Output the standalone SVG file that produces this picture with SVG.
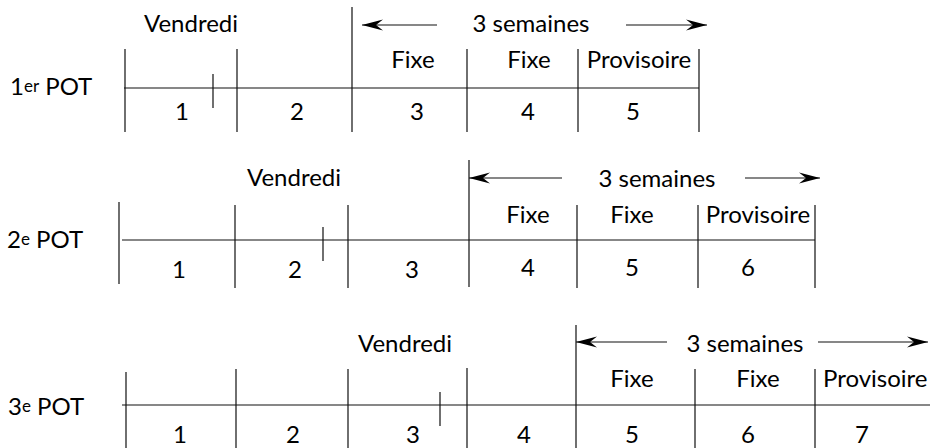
<svg xmlns="http://www.w3.org/2000/svg" width="930" height="448" viewBox="0 0 930 448">
  <style>
    text { font-family: Lato, "Liberation Sans", sans-serif; font-size: 24px; fill: #000; }
    .c { text-anchor: middle; }
    .sup { font-size: 17px; }
    .ln { stroke: #111; stroke-width: 1.2; fill: none; }
    .arr { stroke: #111; stroke-width: 1.2; fill: none; marker-end: url(#head); }
  </style>
  <defs>
    <marker id="head" markerUnits="userSpaceOnUse" markerWidth="24" markerHeight="14" viewBox="-22 -7 24 14" refX="0" refY="0" orient="auto">
      <path d="M0,0 L-21,-5.5 L-14,0 L-21,5.5 Z" fill="#000"/>
    </marker>
  </defs>

  <rect width="930" height="448" fill="#fff"/>

  <!-- first timeline -->
  <g id="pot1">
    <text x="10" y="95">1<tspan class="sup" dy="-3">er</tspan><tspan dy="3"> POT</tspan></text>
    <text class="c" x="191" y="32">Vendredi</text>
    <text class="c" x="531" y="32">3 semaines</text>
    <path class="ln" d="M124,88 H699 M125,49 V132 M237,49 V132 M352,7 V132 M467,49 V132 M578,49 V132 M699,49 V132 M213,74 V108"/>
    <text class="c" x="413" y="68">Fixe</text>
    <text class="c" x="529" y="68">Fixe</text>
    <text class="c" x="639" y="68">Provisoire</text>
    <text class="c" x="182" y="120">1</text>
    <text class="c" x="297" y="120">2</text>
    <text class="c" x="417" y="120">3</text>
    <text class="c" x="528" y="120">4</text>
    <text class="c" x="633" y="120">5</text>
  </g>

  <!-- second timeline -->
  <g id="pot2">
    <text x="7" y="248">2<tspan class="sup" dy="-3">e</tspan><tspan dy="3"> POT</tspan></text>
    <text class="c" x="294" y="186">Vendredi</text>
    <text class="c" x="657" y="187">3 semaines</text>
    <path class="ln" d="M122,240 H815 M119,202 V284 M235,205 V288 M348,205 V288 M469,160 V287 M577,205 V288 M698,205 V288 M815,205 V288 M323,227 V261"/>
    <text class="c" x="528" y="223">Fixe</text>
    <text class="c" x="632" y="223">Fixe</text>
    <text class="c" x="758" y="223">Provisoire</text>
    <text class="c" x="179" y="278">1</text>
    <text class="c" x="295" y="278">2</text>
    <text class="c" x="412" y="278">3</text>
    <text class="c" x="528" y="276">4</text>
    <text class="c" x="632" y="276">5</text>
    <text class="c" x="748" y="276">6</text>
  </g>

  <!-- third timeline -->
  <g id="pot3">
    <text x="8" y="415">3<tspan class="sup" dy="-3">e</tspan><tspan dy="3"> POT</tspan></text>
    <text class="c" x="405" y="352">Vendredi</text>
    <text class="c" x="745" y="352">3 semaines</text>
    <path class="ln" d="M122,405 H930 M126,372 V448 M236,369 V448 M348,369 V448 M467,368 V448 M576,325 V448 M695,369 V448 M815,369 V448 M440,392 V426"/>
    <text class="c" x="632" y="387">Fixe</text>
    <text class="c" x="758" y="387">Fixe</text>
    <text x="823" y="387">Provisoire</text>
    <text class="c" x="180" y="443">1</text>
    <text class="c" x="293" y="443">2</text>
    <text class="c" x="413" y="443">3</text>
    <text class="c" x="524" y="443">4</text>
    <text class="c" x="632" y="443">5</text>
    <text class="c" x="748" y="443">6</text>
    <text class="c" x="862" y="443">7</text>
  </g>

  <!-- "3 semaines" span arrows -->
  <g id="connectors">
    <path class="arr" d="M437,25 H362"/>
    <path class="arr" d="M626,25 H707"/>
    <path class="arr" d="M562,178 H469"/>
    <path class="arr" d="M745,178 H820"/>
    <path class="arr" d="M667,342 H576"/>
    <path class="arr" d="M818,342 H928"/>
  </g>
</svg>
